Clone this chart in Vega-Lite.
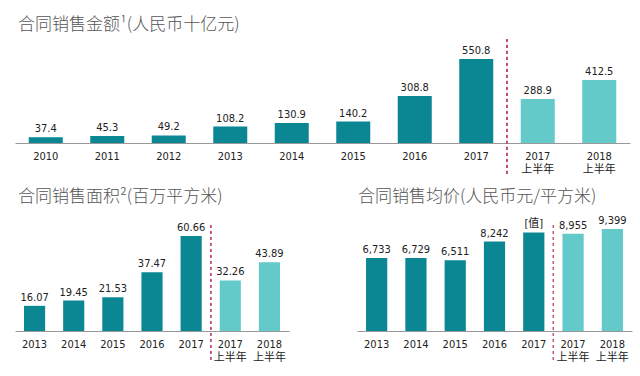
{
  "$schema": "https://vega.github.io/schema/vega-lite/v6.json",
  "background": "white",
  "padding": {"left": 15, "top": 15, "right": 5, "bottom": 5},
  "config": {
    "view": {"stroke": null},
    "font": "Liberation Sans Narrow, DejaVu Sans Condensed, Liberation Sans, sans-serif",
    "title": {"font": "Noto Sans CJK SC", "fontSize": 17, "fontWeight": 300, "color": "#555555", "anchor": "start", "frame": "group", "offset": 5},
    "axisX": {"title": null, "labelAngle": 0, "ticks": false, "domainColor": "#999999", "domainWidth": 1, "labelFontSize": 11, "labelColor": "#222222", "labelPadding": 7, "labelLineHeight": 13, "labelExpr": "split(datum.label, ' ')", "labelFont": "Liberation Sans Narrow, DejaVu Sans Condensed, Noto Sans CJK SC, sans-serif"},
    "text": {"fontSize": 11, "color": "#222222", "baseline": "bottom", "dy": -3}
  },
  "vconcat": [
    {
      "title": {"text": "合同销售金额¹(人民币十亿元)", "dx": 3},
      "width": 615,
      "height": 104,
      "data": {"values": [
        {"period": "2010", "kind": "annual", "value": 37.4},
        {"period": "2011", "kind": "annual", "value": 45.3},
        {"period": "2012", "kind": "annual", "value": 49.2},
        {"period": "2013", "kind": "annual", "value": 108.2},
        {"period": "2014", "kind": "annual", "value": 130.9},
        {"period": "2015", "kind": "annual", "value": 140.2},
        {"period": "2016", "kind": "annual", "value": 308.8},
        {"period": "2017", "kind": "annual", "value": 550.8},
        {"period": "2017 上半年", "kind": "half", "value": 288.9},
        {"period": "2018 上半年", "kind": "half", "value": 412.5}
      ]},
      "encoding": {
        "x": {"field": "period", "type": "nominal", "sort": null, "scale": {"paddingInner": 0.447, "paddingOuter": 0.2235}}
      },
      "layer": [
        {
          "mark": {"type": "bar"},
          "encoding": {
            "y": {"field": "value", "type": "quantitative", "scale": {"domain": [0, 682]}, "axis": null},
            "color": {"field": "kind", "type": "nominal", "scale": {"domain": ["annual", "half"], "range": ["#0b8794", "#63c9c9"]}, "legend": null}
          }
        },
        {
          "mark": {"type": "text"},
          "encoding": {
            "y": {"field": "value", "type": "quantitative", "scale": {"domain": [0, 682]}},
            "text": {"field": "value", "type": "quantitative", "format": ".1f"}
          }
        },
        {
          "mark": {"type": "rule", "strokeDash": [3, 3], "color": "#c0507a", "strokeWidth": 1},
          "encoding": {
            "x": {"datum": "2017 上半年", "bandPosition": -0.404},
            "y": {"datum": -203, "type": "quantitative", "scale": {"domain": [0, 682]}},
            "y2": {"datum": 682}
          }
        }
      ]
    },
    {
      "spacing": 68,
      "hconcat": [
        {
          "title": {"text": "合同销售面积²(百万平方米)", "dx": 3, "offset": 0},
          "width": 274,
          "height": 125,
          "data": {"values": [
            {"period": "2013", "kind": "annual", "value": 16.07},
            {"period": "2014", "kind": "annual", "value": 19.45},
            {"period": "2015", "kind": "annual", "value": 21.53},
            {"period": "2016", "kind": "annual", "value": 37.47},
            {"period": "2017", "kind": "annual", "value": 60.66},
            {"period": "2017 上半年", "kind": "half", "value": 32.26},
            {"period": "2018 上半年", "kind": "half", "value": 43.89}
          ]},
          "encoding": {
            "x": {"field": "period", "type": "nominal", "sort": null, "scale": {"paddingInner": 0.46, "paddingOuter": 0.23}}
          },
          "layer": [
            {
              "mark": {"type": "bar"},
              "encoding": {
                "y": {"field": "value", "type": "quantitative", "scale": {"domain": [0, 79.8]}, "axis": null},
                "color": {"field": "kind", "type": "nominal", "scale": {"domain": ["annual", "half"], "range": ["#0b8794", "#63c9c9"]}, "legend": null}
              }
            },
            {
              "mark": {"type": "text"},
              "encoding": {
                "y": {"field": "value", "type": "quantitative", "scale": {"domain": [0, 79.8]}},
                "text": {"field": "value", "type": "quantitative", "format": ".2f"}
              }
            },
            {
              "mark": {"type": "rule", "strokeDash": [3, 3], "color": "#c0507a", "strokeWidth": 1},
              "encoding": {
                "x": {"datum": "2017 上半年", "bandPosition": -0.426},
                "y": {"datum": -18.5, "type": "quantitative", "scale": {"domain": [0, 79.8]}},
                "y2": {"datum": 69.6}
              }
            }
          ]
        },
        {
          "title": {"text": "合同销售均价(人民币元/平方米)", "dx": 1, "offset": 0},
          "width": 275,
          "height": 125,
          "data": {"values": [
            {"period": "2013", "kind": "annual", "value": 6733, "label": "6,733"},
            {"period": "2014", "kind": "annual", "value": 6729, "label": "6,729"},
            {"period": "2015", "kind": "annual", "value": 6511, "label": "6,511"},
            {"period": "2016", "kind": "annual", "value": 8242, "label": "8,242"},
            {"period": "2017", "kind": "annual", "value": 9080, "label": "[值]"},
            {"period": "2017 上半年", "kind": "half", "value": 8955, "label": "8,955"},
            {"period": "2018 上半年", "kind": "half", "value": 9399, "label": "9,399"}
          ]},
          "encoding": {
            "x": {"field": "period", "type": "nominal", "sort": null, "scale": {"paddingInner": 0.46, "paddingOuter": 0.23}}
          },
          "layer": [
            {
              "mark": {"type": "bar"},
              "encoding": {
                "y": {"field": "value", "type": "quantitative", "scale": {"domain": [0, 11521]}, "axis": null},
                "color": {"field": "kind", "type": "nominal", "scale": {"domain": ["annual", "half"], "range": ["#0b8794", "#63c9c9"]}, "legend": null}
              }
            },
            {
              "mark": {"type": "text", "font": "Liberation Sans Narrow, DejaVu Sans Condensed, Noto Sans CJK SC, sans-serif"},
              "encoding": {
                "y": {"field": "value", "type": "quantitative", "scale": {"domain": [0, 11521]}},
                "text": {"field": "label", "type": "nominal"}
              }
            },
            {
              "mark": {"type": "rule", "strokeDash": [3, 3], "color": "#c0507a", "strokeWidth": 1},
              "encoding": {
                "x": {"datum": "2017 上半年", "bandPosition": -0.426},
                "y": {"datum": -2673, "type": "quantitative", "scale": {"domain": [0, 11521]}},
                "y2": {"datum": 10046}
              }
            }
          ]
        }
      ]
    }
  ],
  "spacing": 13
}
